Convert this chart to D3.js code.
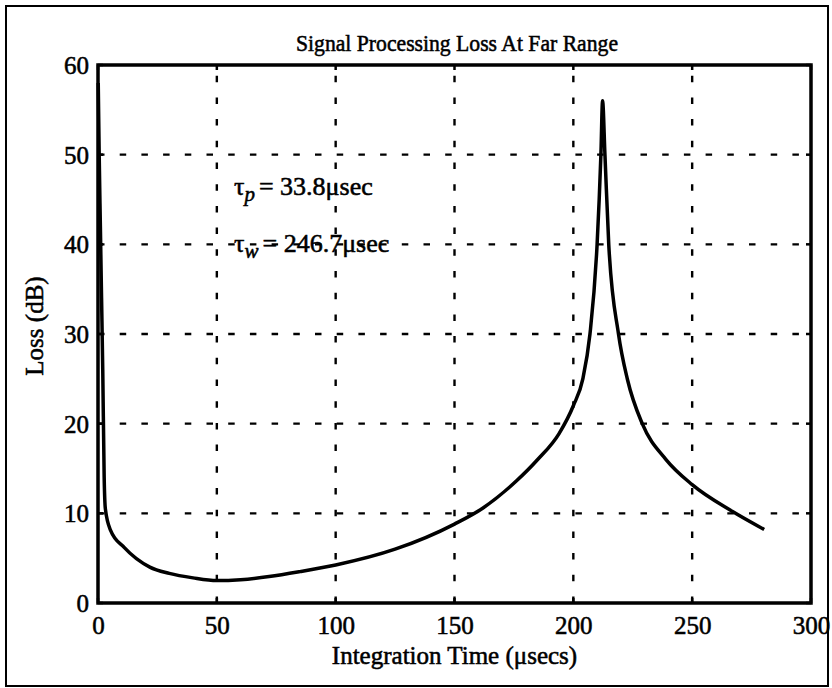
<!DOCTYPE html>
<html>
<head>
<meta charset="utf-8">
<script src="https://cdn.jsdelivr.net/npm/d3@7"></script>
<style>
  body { margin: 0; background: #fff; }
  text { font-family: "Liberation Serif", "Times New Roman", serif; fill: #000; stroke: #000; stroke-width: 0.55px; }
  .grid line { stroke: #000; stroke-width: 2.4; stroke-dasharray: 6.5 15.2; }
  .frame { fill: none; stroke: #000; }
  .loss_line { fill: none; stroke: #000; stroke-width: 3.5; stroke-linejoin: round; }
</style>
</head>
<body>
<div id="chart"></div>
<script>
// integration time (usec) and loss (dB)
var timeUs = [0.1, 0.5, 1.0, 1.5, 2.0, 2.6, 3.1, 5.3, 11, 21.8, 30, 40, 50, 60, 72, 85, 100, 125, 150, 162, 176, 185, 194, 200, 204, 207, 210, 211.6, 212.3, 213.3, 214.9, 219, 222.8, 229, 239, 250, 267, 280.3];
var lossDb = [58, 50, 42, 34, 26, 14, 10.5, 8.1, 6.2, 4.0, 3.3, 2.8, 2.5, 2.6, 2.95, 3.5, 4.24, 6.0, 8.8, 10.6, 13.6, 16, 18.9, 22, 25, 30, 40, 50, 56, 50, 40, 30, 24.9, 20, 16, 13.2, 10.2, 8.2];

var xTicks = [0, 50, 100, 150, 200, 250, 300];
var yTicks = [0, 10, 20, 30, 40, 50, 60];

var chartTitle = "Signal Processing Loss At Far Range";
var xLabel = "Integration Time (\u03bcsecs)";
var yLabel = "Loss (dB)";

var outerWidth = 832, outerHeight = 688;
var margin = {top: 65, right: 21, bottom: 85, left: 98};
var width = outerWidth - margin.left - margin.right;
var height = outerHeight - margin.top - margin.bottom;

var root = d3.select("#chart")
    .append("svg")
    .attr("width", outerWidth)
    .attr("height", outerHeight);

// outer figure border
root.append("rect")
    .attr("class", "frame")
    .attr("x", 6).attr("y", 6)
    .attr("width", 822).attr("height", 680)
    .attr("stroke-width", 2);

var svg = root.append("g")
    .attr("transform", "translate(" + margin.left + "," + margin.top + ")");

var xScale = d3.scaleLinear().domain([0, 300]).range([0, width]);
var yScale = d3.scaleLinear().domain([0, 60]).range([height, 0]);

// gridlines (vertical drawn bottom to top, horizontal left to right)
var grid = svg.append("g").attr("class", "grid");
grid.selectAll("line.gx")
    .data(xTicks.slice(1, -1))
    .enter().append("line")
    .attr("x1", d => xScale(d)).attr("x2", d => xScale(d))
    .attr("y1", yScale(0)).attr("y2", yScale(60));
grid.selectAll("line.gy")
    .data(yTicks.slice(1, -1))
    .enter().append("line")
    .attr("x1", xScale(0)).attr("x2", xScale(300))
    .attr("y1", d => yScale(d)).attr("y2", d => yScale(d));

// inward tick marks on all four sides
var tickLen = 5;
var ticks = svg.append("g").attr("stroke", "#000").attr("stroke-width", 2.5);
xTicks.forEach(function(t) {
    ticks.append("line").attr("x1", xScale(t)).attr("x2", xScale(t)).attr("y1", height).attr("y2", height - tickLen);
    ticks.append("line").attr("x1", xScale(t)).attr("x2", xScale(t)).attr("y1", 0).attr("y2", tickLen);
});
yTicks.forEach(function(t) {
    ticks.append("line").attr("x1", 0).attr("x2", tickLen).attr("y1", yScale(t)).attr("y2", yScale(t));
    ticks.append("line").attr("x1", width).attr("x2", width - tickLen).attr("y1", yScale(t)).attr("y2", yScale(t));
});

// loss curve
var line = d3.line()
    .x((d, i) => xScale(timeUs[i]))
    .y(d => yScale(d))
    .curve(d3.curveMonotoneX);

svg.append("path")
    .datum(lossDb)
    .attr("class", "loss_line")
    .attr("d", line);

// axes box
svg.append("rect")
    .attr("class", "frame")
    .attr("x", 0).attr("y", 0)
    .attr("width", width).attr("height", height)
    .attr("stroke-width", 3.5);

// X axis labels
var xAxis = svg.append("g")
    .attr("transform", "translate(0," + height + ")")
    .call(d3.axisBottom(xScale).tickValues(xTicks).tickSize(0).tickPadding(31).tickFormat(d3.format("d")));
xAxis.select(".domain").remove();
xAxis.selectAll("text").style("font-size", "25px").attr("dy", 0).attr("fill", "#000");

// Y axis labels
var yAxis = svg.append("g")
    .call(d3.axisLeft(yScale).tickValues(yTicks).tickSize(0).tickPadding(9).tickFormat(d3.format("d")));
yAxis.select(".domain").remove();
yAxis.selectAll("text").style("font-size", "25px").attr("dy", "0.34em").attr("fill", "#000");

// title and axis titles
root.append("text")
    .attr("x", 457)
    .attr("y", 51)
    .attr("text-anchor", "middle")
    .attr("textLength", 322)
    .attr("lengthAdjust", "spacingAndGlyphs")
    .style("font-size", "24px")
    .text(chartTitle);

root.append("text")
    .attr("x", margin.left + width / 2)
    .attr("y", 664)
    .attr("text-anchor", "middle")
    .style("font-size", "25px")
    .text(xLabel);

root.append("text")
    .attr("transform", "translate(43," + (margin.top + height / 2 - 8) + ") rotate(-90)")
    .attr("text-anchor", "middle")
    .style("font-size", "25px")
    .text(yLabel);

// annotations
function annotate(y, sub, rest) {
    var t = root.append("text")
        .attr("x", 234)
        .attr("y", y)
        .style("font-size", "26px");
    t.append("tspan").text("\u03c4");
    t.append("tspan").attr("dy", 6).style("font-style", "italic").style("font-size", "21px").text(sub);
    t.append("tspan").attr("dy", -6).attr("dx", 4).text("= " + rest);
}
annotate(195, "p", "33.8\u03bcsec");
annotate(252, "w", "246.7\u03bcsec");
</script>
</body>
</html>
